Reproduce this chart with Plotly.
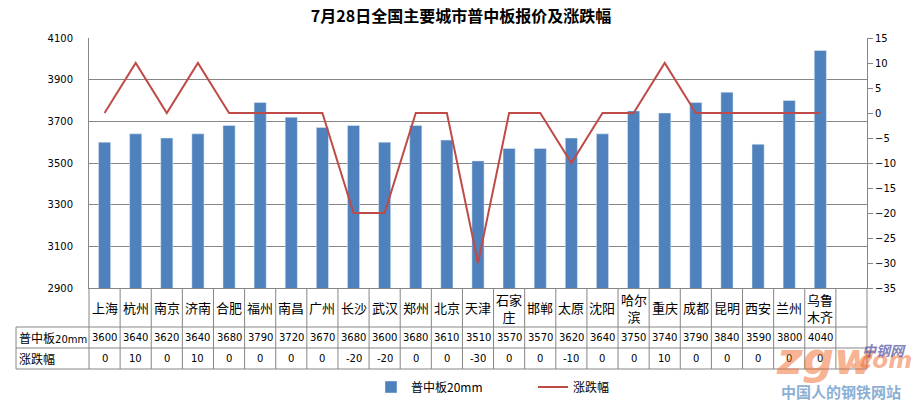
import plotly.graph_objects as go

cities = ["上海", "杭州", "南京", "济南", "合肥", "福州", "南昌", "广州", "长沙", "武汉", "郑州", "北京",
          "天津", "石家庄", "邯郸", "太原", "沈阳", "哈尔滨", "重庆", "成都", "昆明", "西安", "兰州", "乌鲁木齐"]
city_labels = ["上海", "杭州", "南京", "济南", "合肥", "福州", "南昌", "广州", "长沙", "武汉", "郑州", "北京",
               "天津", "石家<br>庄", "邯郸", "太原", "沈阳", "哈尔<br>滨", "重庆", "成都", "昆明", "西安", "兰州", "乌鲁<br>木齐"]
price = [3600, 3640, 3620, 3640, 3680, 3790, 3720, 3670, 3680, 3600, 3680, 3610,
         3510, 3570, 3570, 3620, 3640, 3750, 3740, 3790, 3840, 3590, 3800, 4040]
change = [0, 10, 0, 10, 0, 0, 0, 0, -20, -20, 0, 0,
          -30, 0, 0, -10, 0, 0, 10, 0, 0, 0, 0, 0]
series_names = ["普中板20mm", "涨跌幅"]
title_text = "7月28日全国主要城市普中板报价及涨跌幅"

FONT = "DejaVu Sans, Noto Sans CJK SC, sans-serif"
CJK = "Noto Sans CJK SC, sans-serif"
GRID = "#868686"
BAR = "#4F81BD"
LINE = "#BE4B48"

# page body has an 8px margin: figure is offset by (8, 8) in the window
OFF = 8
W, H = 924 - OFF, 404 - OFF
PL, PR, PT, PB = 89, 867, 38, 288  # plot area in window pixels
PW, PH = PR - PL, PB - PT
NCOL = len(cities) + 1  # one empty column at the right end


def py(px):
    return (PB - px) / PH


def pxx(px):
    return (px - PL) / PW


fig = go.Figure()
fig.add_trace(go.Bar(x=cities, y=price, name=series_names[0], marker_color=BAR,
                     width=0.39, yaxis="y"))
fig.add_trace(go.Scatter(x=cities, y=change, name=series_names[1], mode="lines",
                         line=dict(color=LINE, width=2), yaxis="y2"))

shapes = []
annotations = []
row1_top, row1_bot, row2_bot, row3_bot = 288, 327, 348, 369
# vertical table lines
for i in range(NCOL + 1):
    xp = i / NCOL
    shapes.append(dict(type="line", xref="paper", yref="paper", x0=xp, x1=xp,
                       y0=py(row1_top), y1=py(row3_bot), line=dict(color=GRID, width=1)))
# horizontal table lines
for yy in (row1_bot, row2_bot, row3_bot):
    shapes.append(dict(type="line", xref="paper", yref="paper", x0=pxx(16), x1=1,
                       y0=py(yy), y1=py(yy), line=dict(color=GRID, width=1)))
shapes.append(dict(type="line", xref="paper", yref="paper", x0=pxx(16), x1=pxx(16),
                   y0=py(row1_bot), y1=py(row3_bot), line=dict(color=GRID, width=1)))

for i, c in enumerate(cities):
    xc = (i + 0.5) / NCOL
    annotations.append(dict(x=xc, xref="paper", xanchor="center",
                            y=py((row1_top + row1_bot) / 2), yref="paper", yanchor="middle",
                            text=city_labels[i], showarrow=False,
                            font=dict(family=CJK, size=13, color="black")))
    annotations.append(dict(x=xc, xref="paper", xanchor="center",
                            y=py((row1_bot + row2_bot) / 2), yref="paper", yanchor="middle",
                            text=str(price[i]), showarrow=False,
                            font=dict(family=FONT, size=10, color="black")))
    annotations.append(dict(x=xc, xref="paper", xanchor="center",
                            y=py((row2_bot + row3_bot) / 2), yref="paper", yanchor="middle",
                            text=str(change[i]), showarrow=False,
                            font=dict(family=FONT, size=10, color="black")))

annotations.append(dict(x=pxx(17), xref="paper", xanchor="left",
                        y=py((row1_bot + row2_bot) / 2), yref="paper", yanchor="middle",
                        text="普中板<span style='font-family:DejaVu Sans;font-size:10px'>20mm</span>",
                        showarrow=False, font=dict(family=CJK, size=12, color="black")))
annotations.append(dict(x=pxx(17), xref="paper", xanchor="left",
                        y=py((row2_bot + row3_bot) / 2), yref="paper", yanchor="middle",
                        text="涨跌幅", showarrow=False,
                        font=dict(family=CJK, size=12, color="black")))

# watermark
annotations.append(dict(x=pxx(774), xref="paper", xanchor="left", y=py(358), yref="paper",
                        yanchor="middle", text="<b><i>zgw</i></b>", showarrow=False, opacity=0.5,
                        font=dict(family="DejaVu Sans", size=44, color="#F06A2A")))
annotations.append(dict(x=pxx(848), xref="paper", xanchor="left", y=py(360), yref="paper",
                        yanchor="middle", text="<b><i>.com</i></b>", showarrow=False, opacity=0.5,
                        font=dict(family="DejaVu Sans", size=23, color="#F06A2A")))
annotations.append(dict(x=pxx(884), xref="paper", xanchor="center", y=py(350), yref="paper",
                        yanchor="middle", text="<b><i>中钢网</i></b>", showarrow=False, opacity=0.75,
                        font=dict(family=CJK, size=14, color="#5A5AA8")))
annotations.append(dict(x=pxx(841), xref="paper", xanchor="center", y=py(391), yref="paper",
                        yanchor="middle", text="<b>中国人的钢铁网站</b>", showarrow=False, opacity=0.8,
                        font=dict(family=CJK, size=15, color="#6F9CCB")))

fig.update_layout(
    width=W, height=H,
    margin=dict(l=PL - OFF, r=W - (PR - OFF), t=PT - OFF, b=H - (PB - OFF), pad=0,
                autoexpand=False),
    paper_bgcolor="white", plot_bgcolor="white",
    title=dict(text="<b>" + title_text + "</b>", x=pxx(461), xanchor="center", xref="paper",
               y=1 - (16.5 - OFF) / H, yref="container", yanchor="middle",
               font=dict(family=CJK, size=16, color="black")),
    font=dict(family=FONT, size=11, color="black"),
    xaxis=dict(type="category", categoryorder="array", categoryarray=cities,
               range=[-0.5, len(cities) + 0.5], showticklabels=False, showgrid=False,
               showline=True, linecolor=GRID, linewidth=1, ticks="", zeroline=False,
               automargin=False),
    yaxis=dict(range=[2900, 4100], dtick=200, tick0=2900, showgrid=True, gridcolor=GRID,
               gridwidth=1, showline=True, linecolor=GRID, ticks="", ticklabelstandoff=13,
               zeroline=False, tickfont=dict(family=FONT, size=10), automargin=False),
    yaxis2=dict(range=[-35, 15], dtick=5, tick0=-35, overlaying="y", side="right",
                showgrid=False, showline=True, linecolor=GRID, ticks="outside", ticklen=5,
                tickcolor=GRID, zeroline=False, tickfont=dict(family=FONT, size=10),
                automargin=False),
    legend=dict(orientation="h", x=pxx(371), xanchor="left", y=py(387), yanchor="middle",
                font=dict(family=CJK, size=12, color="black"), entrywidth=117,
                entrywidthmode="pixels", bgcolor="rgba(0,0,0,0)"),
    shapes=shapes, annotations=annotations, bargap=0.6,
)

fig.write_html("out.html")
